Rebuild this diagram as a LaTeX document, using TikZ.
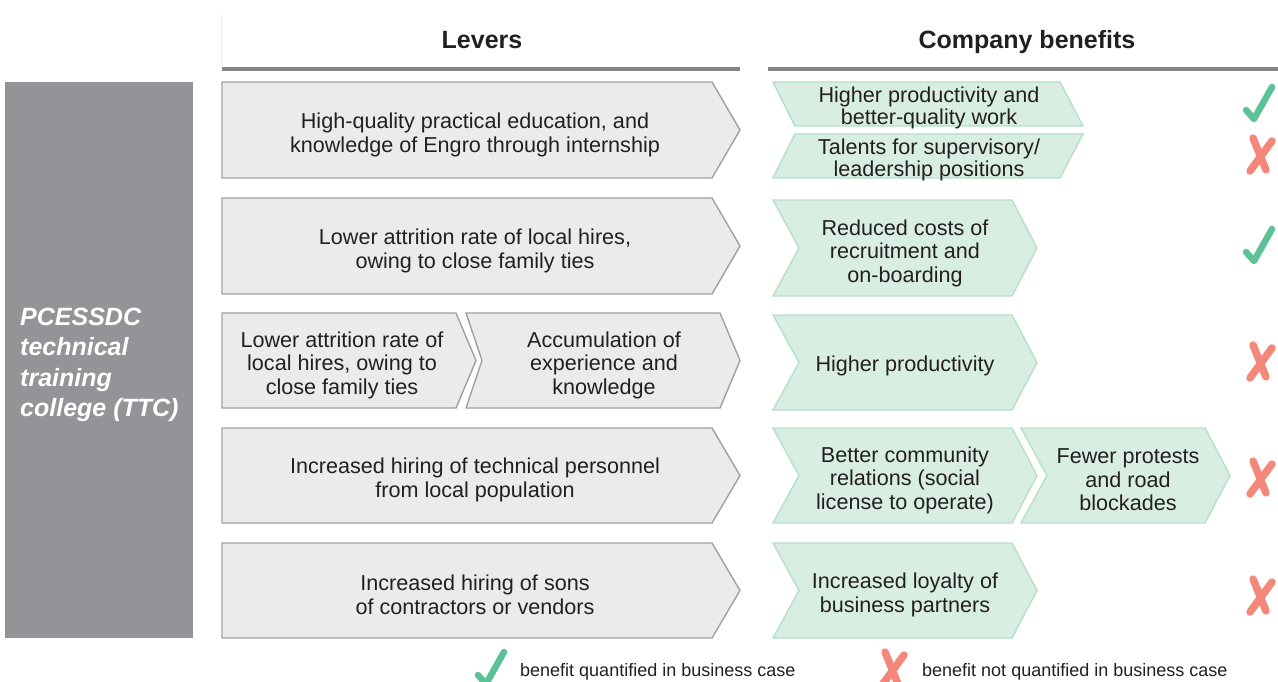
\documentclass[tikz,border=0pt]{standalone}
\usepackage{fontspec}
\setmainfont{Liberation Sans}
\definecolor{ink}{HTML}{231F20}
\definecolor{sidegray}{HTML}{939497}
\definecolor{rulegray}{HTML}{828786}
\definecolor{leverfill}{HTML}{EBEBEB}
\definecolor{leverline}{HTML}{A0A0A0}
\definecolor{gainfill}{HTML}{D9EEE2}
\definecolor{gainline}{HTML}{B5E0C7}
\definecolor{okcol}{HTML}{5CC197}
\definecolor{nocol}{HTML}{F2877A}

% chevron: style, left x, tip x, top y, bottom y, notch depth, tip depth
\newcommand\chev[7]{%
  \path[#1] (#2,#4) -- ({#3-#7},#4) -- (#3,{(#4+#5)/2}) -- ({#3-#7},#5)
    -- (#2,#5) -- ({#2+#6},{(#4+#5)/2}) -- cycle;}

\begin{document}
\begin{tikzpicture}[x=1pt,y=-1pt,
  lever/.style={fill=leverfill,draw=leverline,line width=1.4pt},
  gain/.style={fill=gainfill,draw=gainline,line width=1.4pt},
  body/.style={text=ink,align=center,inner sep=0pt,
    font=\fontsize{21.6}{23.5}\selectfont},
  head/.style={text=ink,inner sep=0pt,anchor=base,font=\fontsize{25}{30}\selectfont\bfseries},
  side/.style={text=white,align=left,inner sep=0pt,
    font=\fontsize{25}{30.5}\selectfont\bfseries\itshape},
  legend/.style={text=ink,inner sep=0pt,font=\fontsize{18}{21}\selectfont},
  rule/.style={draw=rulegray,line width=4.5pt},
  okmark/.pic={\draw[okcol,line width=6.5pt,line cap=round,line join=round]
    (-14,6) -- (-6,15) -- (12,-17);},
  nomark/.pic={\draw[nocol,line width=7.5pt,line cap=round]
    (-7,-17) -- (6,15) (12,-14) -- (-10,16);}
]
\useasboundingbox (0,0) rectangle (1278,682);

% college block on the left
\path[fill=sidegray] (5,82) rectangle (193,638);
\node[side,anchor=west] (ttc) at (20,365) {PCESSDC\\technical\\training\\college (TTC)};

% column headers
\draw[draw=black!8,line width=1pt] (221,15) -- (221,67);
\node[head] (levers) at (482,49) {Levers};
\node[head] (benefits) at (1027,49) {Company benefits};
\draw[rule] (222,69) -- (740,69);
\draw[rule] (768,69) -- (1278,69);

% levers
\chev{lever}{222}{740}{82}{178}{0}{28}
\chev{lever}{222}{740}{198}{294}{0}{28}
\chev{lever}{222}{476}{313}{408}{0}{20}
\chev{lever}{466}{740}{313}{408}{16}{20}
\chev{lever}{222}{740}{428}{523}{0}{28}
\chev{lever}{222}{740}{543}{638}{0}{28}

\node[body] (l1) at (475,135) {High-quality practical education, and\\knowledge of Engro through internship};
\node[body] (l2) at (475,251) {Lower attrition rate of local hires,\\owing to close family ties};
\node[body] (l3a) at (342,365) {Lower attrition rate of\\local hires, owing to\\close family ties};
\node[body] (l3b) at (604,365) {Accumulation of\\experience and\\knowledge};
\node[body] (l4) at (475,480) {Increased hiring of technical personnel\\from local population};
\node[body] (l5) at (475,595) {Increased hiring of sons\\of contractors or vendors};

% company benefits
\path[gain] (773,82) -- (1060,82) -- (1083,126) -- (795,126) -- cycle;
\path[gain] (795,134) -- (1083,134) -- (1060,178) -- (773,178) -- cycle;
\chev{gain}{773}{1037}{200}{296}{26}{25}
\chev{gain}{773}{1037}{315}{410}{26}{25}
\chev{gain}{773}{1037}{428}{523}{26}{25}
\chev{gain}{1021}{1230}{428}{523}{26}{25}
\chev{gain}{773}{1037}{543}{638}{26}{25}

\node[body,font=\fontsize{21.6}{22.5}\selectfont] (b1a) at (929,108) {Higher productivity and\\better-quality work};
\node[body,font=\fontsize{21.6}{22.5}\selectfont] (b1b) at (929,160) {Talents for supervisory/\\leadership positions};
\node[body] (b2) at (905,253) {Reduced costs of\\recruitment and\\on-boarding};
\node[body] (b3) at (905,366) {Higher productivity};
\node[body] (b4a) at (905,480) {Better community\\relations (social\\license to operate)};
\node[body] (b4b) at (1128,480) {Fewer protests\\and road\\blockades};
\node[body] (b5) at (905,595) {Increased loyalty of\\business partners};

% quantification marks
\pic at (1260,104) {okmark};
\pic at (1260,155) {nomark};
\pic at (1260,246) {okmark};
\pic at (1260,362) {nomark};
\pic at (1260,478) {nomark};
\pic at (1260,596) {nomark};

% legend
\begin{scope}
\clip (0,0) rectangle (1278,682);
\pic at (492,669) {okmark};
\pic at (892,669) {nomark};
\end{scope}
\node[legend,anchor=base west] (lq) at (520,676) {benefit quantified in business case};
\node[legend,anchor=base west] (ln) at (922,676) {benefit not quantified in business case};
\end{tikzpicture}
\end{document}
